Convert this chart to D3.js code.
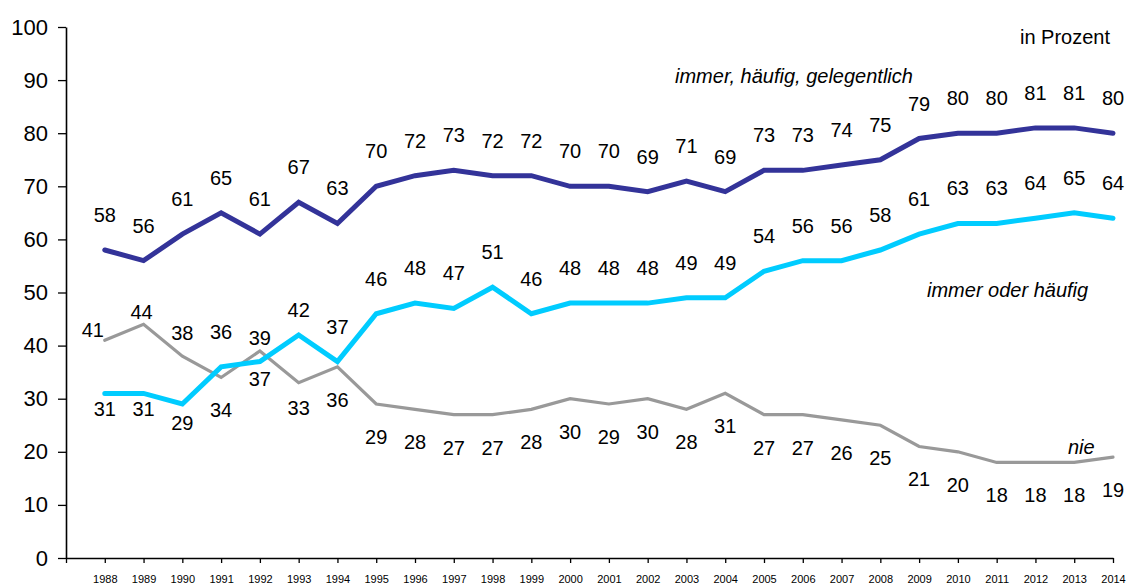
<!DOCTYPE html>
<html>
<head>
<meta charset="utf-8">
<script src="https://cdn.jsdelivr.net/npm/d3@7"></script>
<style>
  html, body { margin: 0; padding: 0; background: #fff; }
  svg { display: block; font-family: "Liberation Sans", Arial, sans-serif; }
</style>
</head>
<body>
<svg id="chart" width="1131" height="585"></svg>
<script>
// Survey years
const years = d3.range(1988, 2015);

// Shares in percent per year
const gelegentlich = [58, 56, 61, 65, 61, 67, 63, 70, 72, 73, 72, 72, 70, 70, 69, 71, 69, 73, 73, 74, 75, 79, 80, 80, 81, 81, 80];
const haeufig      = [31, 31, 29, 36, 37, 42, 37, 46, 48, 47, 51, 46, 48, 48, 48, 49, 49, 54, 56, 56, 58, 61, 63, 63, 64, 65, 64];
const nie          = [41, 44, 38, 34, 39, 33, 36, 29, 28, 27, 27, 28, 30, 29, 30, 28, 31, 27, 27, 26, 25, 21, 20, 18, 18, 18, 19];

// Y axis tick values
const yTicks = d3.range(0, 101, 10);

// Vertical label placement (px from the point), kept apart from the values
const ABOVE = -35, BELOW = 33;
const haeufigLabelDy = [16, 16, 19, ABOVE, 17, -25, ABOVE].concat(d3.range(20).map(() => ABOVE));
const nieLabelDy = [-10, -12, -23, BELOW, -13, 25, BELOW].concat(d3.range(20).map(() => BELOW));
const nieLabelDx = [-12, -2, 0, 0, 0, 0, 0].concat(d3.range(20).map(() => 0));

const svg = d3.select("#chart");

const x = d3.scaleLinear().domain([1987, 2014]).range([66, 1113]);
const y = d3.scaleLinear().domain([0, 100]).range([558, 27]);

// Y axis
const yAxis = svg.append("g")
  .attr("transform", `translate(${x(1987)},0)`)
  .call(d3.axisLeft(y).tickValues(yTicks).tickSize(8).tickPadding(10).tickSizeOuter(0));
yAxis.select(".domain").attr("stroke", "#000").attr("stroke-width", 1.6);
yAxis.selectAll(".tick line").attr("stroke", "#000").attr("stroke-width", 1.3);
yAxis.selectAll(".tick text").attr("font-size", 22).attr("fill", "#000")
  .attr("font-family", "'Liberation Sans', Arial, sans-serif");

// X axis
const xAxis = svg.append("g")
  .attr("transform", `translate(0,${y(0)})`)
  .call(d3.axisBottom(x)
    .tickValues(d3.range(1987, 2015))
    .tickFormat(d => d === 1987 ? "" : String(d))
    .tickSize(5).tickPadding(12).tickSizeOuter(0));
xAxis.select(".domain").attr("stroke", "#000").attr("stroke-width", 1.6);
xAxis.selectAll(".tick line").attr("stroke", "#000").attr("stroke-width", 1.3);
xAxis.selectAll(".tick text").attr("font-size", 11).attr("fill", "#000")
  .attr("font-family", "'Liberation Sans', Arial, sans-serif");

const line = d3.line().x((d, i) => x(years[i])).y(d => y(d));

const series = [
  { values: nie,          color: "#999999", width: 3.2, dy: nieLabelDy, dx: nieLabelDx },
  { values: haeufig,      color: "#00CCFF", width: 5,   dy: haeufigLabelDy, dx: null },
  { values: gelegentlich, color: "#333399", width: 5,   dy: null, dx: null }
];

series.forEach(s => {
  svg.append("path")
    .datum(s.values)
    .attr("fill", "none")
    .attr("stroke", s.color)
    .attr("stroke-width", s.width)
    .attr("stroke-linejoin", "miter")
    .attr("stroke-linecap", "round")
    .attr("d", line);
});

// Value labels
series.forEach(s => {
  svg.append("g").selectAll("text")
    .data(s.values)
    .join("text")
    .attr("x", (d, i) => x(years[i]) + (s.dx ? s.dx[i] : 0))
    .attr("y", (d, i) => y(d) + (s.dy ? s.dy[i] : ABOVE))
    .attr("text-anchor", "middle")
    .attr("dominant-baseline", "central")
    .attr("font-size", 20)
    .attr("fill", "#000")
    .text(d => d);
});

// Series names and unit note
const notes = [
  { text: "immer, häufig, gelegentlich", x: 675, y: 76, italic: true, anchor: "start" },
  { text: "immer oder häufig", x: 927, y: 290, italic: true, anchor: "start" },
  { text: "nie", x: 1068, y: 447, italic: true, anchor: "start" },
  { text: "in Prozent", x: 1110, y: 37, italic: false, anchor: "end" }
];
svg.append("g").selectAll("text")
  .data(notes)
  .join("text")
  .attr("x", d => d.x)
  .attr("y", d => d.y)
  .attr("text-anchor", d => d.anchor)
  .attr("dominant-baseline", "central")
  .attr("font-size", 20)
  .attr("font-style", d => d.italic ? "italic" : "normal")
  .attr("fill", "#000")
  .text(d => d.text);
</script>
</body>
</html>
